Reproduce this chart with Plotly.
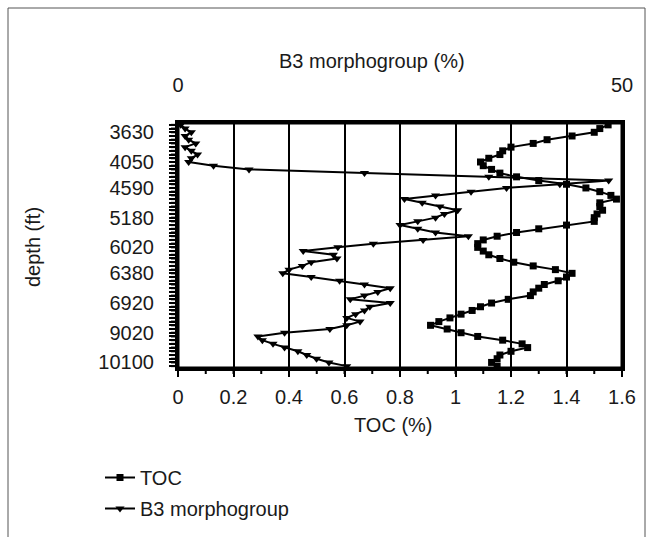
import plotly.graph_objects as go

# depth tick labels (every ~8th sample labelled)
depth_labels = ["3630", "4050", "4590", "5180", "6020", "6380", "6920", "9020", "10100"]

# TOC (%) per sample, top to bottom
toc = [1.55, 1.52, 1.50, 1.42, 1.33, 1.28, 1.20, 1.17, 1.16, 1.12,
       1.09, 1.10, 1.13, 1.16, 1.22, 1.30, 1.40, 1.47, 1.52, 1.56,
       1.58, 1.52, 1.52, 1.53, 1.51, 1.50, 1.50, 1.40, 1.30, 1.22,
       1.15, 1.10, 1.08, 1.08, 1.10, 1.12, 1.16, 1.21, 1.28, 1.36,
       1.42, 1.40, 1.37, 1.32, 1.30, 1.28, 1.27, 1.19, 1.13, 1.09,
       1.06, 1.02, 0.98, 0.94, 0.91, 0.97, 1.02, 1.08, 1.17, 1.24,
       1.26, 1.20, 1.16, 1.15, 1.13, 1.15]

# B3 morphogroup (%) per sample, top to bottom
b3 = [0.3, 0.8, 1.5, 0.8, 1.2, 2.0, 0.8, 1.5, 2.2, 1.5,
      1.2, 4.0, 8.0, 21.0, 35.0, 48.5, 43.0, 37.0, 33.0, 29.0,
      25.5, 27.5, 29.5, 31.5, 30.0, 29.0, 27.0, 25.0, 27.0, 29.0,
      32.7, 27.6, 22.0, 18.0, 14.1, 17.5, 17.9, 15.0, 14.0, 12.5,
      11.8, 15.0, 18.2, 21.0, 23.9, 22.5, 21.0, 19.4, 23.9, 21.6,
      21.0, 20.0, 19.0, 20.5, 19.0, 17.1, 12.0, 9.0, 9.5, 10.7,
      12.0, 13.5, 14.5, 15.6, 17.0, 19.0]

# TOC axis: range, label step, minor tick step
toc_max = 1.6
toc_major_step = 0.2
toc_minor_step = 0.1
b3_max = 50

n = len(toc)
idx = list(range(n))

# plot area in pixels
L, R, T, B = 178, 622, 123, 368
W, H = 652, 537
pw, ph = R - L, B - T


def px_x(px):
    return (px - L) / pw


def px_y(py):
    return (B - py) / ph


# depth labels on every ~8th sample, ticks on every sample
s = ph / n
label_pos = [min(n - 1, round((132 + 28.6 * k - T) / s - 0.5)) for k in range(len(depth_labels))]
nb = "\u00a0"
ytext = ["" for _ in idx]
for p, lab in zip(label_pos, depth_labels):
    ytext[p] = lab + nb * 2

font_family = "Liberation Sans, Arial, sans-serif"
txt = "#1a1a1a"
fs = 20

fig = go.Figure()
fig.add_trace(go.Scatter(
    x=toc, y=idx, name="TOC", mode="lines+markers",
    line=dict(color="black", width=2),
    marker=dict(symbol="square", size=7, color="black"),
    legendgroup="a", xaxis="x", yaxis="y"))
fig.add_trace(go.Scatter(
    x=b3, y=idx, name="B3 morphogroup", mode="lines+markers",
    line=dict(color="black", width=2),
    marker=dict(symbol="triangle-down", size=8, color="black"),
    legendgroup="b", xaxis="x2", yaxis="y"))

yrange = [n - 0.5, -0.5]


def yfrac(v):
    # fraction of the plot height (from bottom) for a value on the reversed y axis
    return (yrange[0] - v) / (yrange[0] - yrange[1])


# tick marks as paper-referenced stubs (not clipped by the plot area)
tick_len_x = 7 / pw
tick_len_y = 6 / ph
shapes = [
    dict(type="rect", xref="paper", yref="paper",
         x0=px_x(8), x1=px_x(645), y0=px_y(560), y1=px_y(8),
         line=dict(color="#555555", width=1), layer="below"),
    dict(type="rect", xref="paper", yref="paper",
         x0=0, x1=1, y0=0, y1=1,
         line=dict(color="black", width=3), layer="above"),
]
for i in idx:
    shapes.append(dict(type="line", xref="paper", yref="paper",
                       x0=-tick_len_x, x1=0, y0=yfrac(i), y1=yfrac(i),
                       line=dict(color="black", width=2), layer="above"))
n_minor = int(round(toc_max / toc_minor_step))
for k in range(n_minor + 1):
    fx = k * toc_minor_step / toc_max
    shapes.append(dict(type="line", xref="paper", yref="paper",
                       x0=fx, x1=fx, y0=-tick_len_y, y1=0,
                       line=dict(color="black", width=2), layer="above"))

fig.update_layout(
    template="none",
    width=W, height=H,
    margin=dict(l=L, r=W - R, t=T, b=H - B, pad=0, autoexpand=False),
    paper_bgcolor="white", plot_bgcolor="white",
    font=dict(family=font_family, size=fs, color=txt),
    showlegend=True,
    legend=dict(x=px_x(100), y=px_y(458), xanchor="left", yanchor="top",
                bgcolor="rgba(0,0,0,0)", font=dict(size=fs, color=txt),
                tracegroupgap=2, itemwidth=30),
    xaxis=dict(range=[0, toc_max], dtick=toc_major_step, tick0=0,
               showgrid=True, gridcolor="black", gridwidth=2,
               zeroline=False,
               showline=True, linecolor="black", linewidth=3, mirror=True,
               ticks="outside", ticklen=6, tickwidth=2, tickcolor="black",
               ticklabelstandoff=3,
               tickfont=dict(size=fs, color=txt)),
    xaxis2=dict(range=[0, b3_max], overlaying="x", side="top",
                tickmode="array", tickvals=[0, b3_max], ticktext=["0", "50"],
                showgrid=False, zeroline=False,
                showline=True, linecolor="black", linewidth=3,
                ticks="", ticklabelstandoff=20,
                tickfont=dict(size=fs, color=txt)),
    yaxis=dict(range=yrange, tickmode="array",
               tickvals=idx, ticktext=ytext,
               showgrid=False, zeroline=False,
               showline=True, linecolor="black", linewidth=3, mirror=True,
               ticks="outside", ticklen=6, tickwidth=2, tickcolor="black",
               tickfont=dict(size=fs, color=txt)),
    annotations=[
        dict(text="TOC (%)", x=px_x(393), y=px_y(425), xref="paper", yref="paper",
             showarrow=False, xanchor="center", yanchor="middle",
             font=dict(size=fs, color=txt)),
        dict(text="B3 morphogroup (%)", x=px_x(372), y=px_y(61), xref="paper", yref="paper",
             showarrow=False, xanchor="center", yanchor="middle",
             font=dict(size=fs, color=txt)),
        dict(text="depth (ft)", x=px_x(33), y=px_y(247), xref="paper", yref="paper",
             showarrow=False, xanchor="center", yanchor="middle", textangle=-90,
             font=dict(size=fs, color=txt)),
    ],
    shapes=shapes,
)

fig.write_html("out.html")
